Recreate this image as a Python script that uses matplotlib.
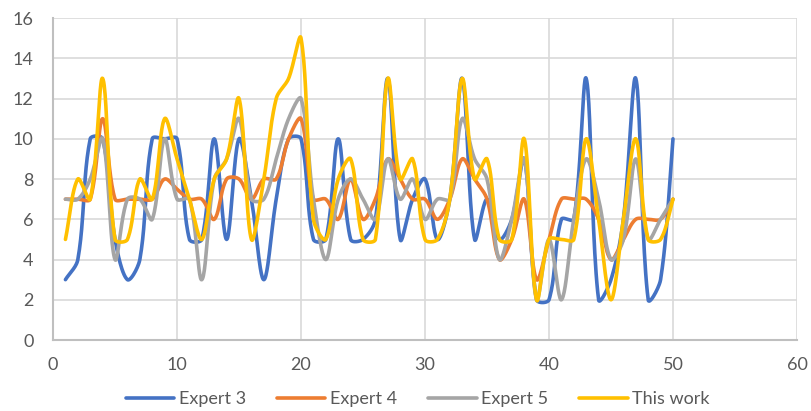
import numpy as np
import matplotlib
matplotlib.use("Agg")
import matplotlib.pyplot as plt

plt.rcParams['font.family'] = ['Lato', 'DejaVu Sans']

# data (x = 1..50)
x = list(range(1, 51))
expert3 = [3, 4, 10, 10, 5, 3, 4, 10, 10, 10, 5, 5, 10, 5, 10, 7, 3, 7, 10, 10,
           5, 5, 10, 5, 5, 6, 13, 5, 7, 8, 5, 7, 13, 5, 7, 5, 6, 9, 2, 2,
           6, 6, 13, 2, 3, 6, 13, 2, 3, 10]
expert4 = [7, 7, 7, 11, 7, 7, 7, 7, 8, 7.5, 7, 7, 6, 8, 8, 7, 8, 8, 10, 11,
           7, 7, 6, 8, 6, 7, 9, 8, 7, 7, 6, 7, 9, 8, 7, 4, 5, 7, 3, 5,
           7, 7, 7, 6, 4, 5, 6, 6, 6, 7]
expert5 = [7, 7, 8, 10, 4, 7, 7, 6, 10, 7, 7, 3, 8, 9, 11, 7, 7, 9, 11, 12,
           7, 4, 7, 8, 7, 6, 9, 7, 8, 6, 7, 7, 11, 9, 8, 4, 6, 9, 2, 5,
           2, 6, 9, 7, 4, 5, 9, 5, 6, 7]
this_work = [5, 8, 7, 13, 5, 5, 8, 7, 11, 9, 7, 5, 8, 9, 12, 5, 8, 12, 13, 15,
             6, 5, 8, 9, 5, 5, 13, 8, 9, 5, 5, 7, 13, 8, 9, 5, 5, 10, 2, 5,
             5, 5, 10, 6, 2, 6, 10, 5, 5, 7]

series = [("Expert 3", expert3, "#4472C4"),
          ("Expert 4", expert4, "#ED7D31"),
          ("Expert 5", expert5, "#A5A5A5"),
          ("This work", this_work, "#FFC000")]

# pixels per data unit, used so the smoothing works like Excel's (screen space)
SX, SY = 12.4, 20.1


def smooth(xs, ys, n=24):
    # Excel-style smoothed line: Bezier pieces whose handles are scaled by
    # the neighbouring chord lengths, so flat runs stay flat
    p = np.column_stack([np.asarray(xs, float) * SX, np.asarray(ys, float) * SY])
    pp = np.vstack([p[0], p, p[-1]])
    t = np.linspace(0, 1, n, endpoint=False)[:, None]
    out = []
    for i in range(len(p) - 1):
        p0, p1, p2, p3 = pp[i], pp[i + 1], pp[i + 2], pp[i + 3]
        d01 = np.hypot(*(p1 - p0))
        d12 = np.hypot(*(p2 - p1))
        d23 = np.hypot(*(p3 - p2))
        f1 = d12 / (d01 + d12) if d01 + d12 > 0 else 0
        f2 = d12 / (d12 + d23) if d12 + d23 > 0 else 0
        c1 = p1 + (p2 - p0) * f1 / 3
        c2 = p2 - (p3 - p1) * f2 / 3
        seg = ((1 - t) ** 3 * p1 + 3 * (1 - t) ** 2 * t * c1
               + 3 * (1 - t) * t ** 2 * c2 + t ** 3 * p2)
        out.append(seg)
    out.append(p[-1:])
    c = np.vstack(out)
    return c[:, 0] / SX, c[:, 1] / SY


fig = plt.figure(figsize=(8.11, 4.11), dpi=100)
ax = fig.add_axes([0.0654, 0.1727, 0.9173, 0.7833])

for name, vals, col in series:
    cx, cy = smooth(x, vals)
    ax.plot(cx, cy, color=col, lw=2.6, label=name,
            solid_capstyle='round', solid_joinstyle='round')

ax.set_xlim(0, 60)
ax.set_ylim(0, 16)
ax.set_xticks(range(0, 61, 10))
ax.set_yticks(range(0, 17, 2))
ax.grid(True, color="#D9D9D9", lw=1.2)
ax.set_axisbelow(True)
for s in ["top", "right"]:
    ax.spines[s].set_visible(False)
for s in ["left", "bottom"]:
    ax.spines[s].set_color("#BFBFBF")
    ax.spines[s].set_linewidth(1.5)
ax.tick_params(length=0, labelsize=13, labelcolor="#595959")
ax.tick_params(axis='x', pad=12)
ax.tick_params(axis='y', pad=14)

fig.legend(loc="center", bbox_to_anchor=(0.515, 0.029), ncol=4, frameon=False,
           fontsize=13, labelcolor="#595959", handlelength=2.7,
           handletextpad=0.25, columnspacing=1.7)

fig.savefig("out.png", dpi=100)
